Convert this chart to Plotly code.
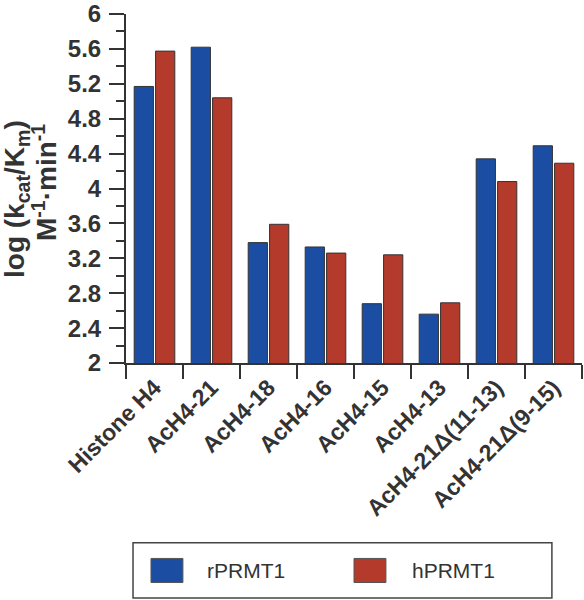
import plotly.graph_objects as go

categories = ["Histone H4", "AcH4-21", "AcH4-18", "AcH4-16", "AcH4-15",
              "AcH4-13", "AcH4-21Δ(11-13)", "AcH4-21Δ(9-15)"]
series_names = ["rPRMT1", "hPRMT1"]
rPRMT1 = [5.17, 5.62, 3.38, 3.33, 2.68, 2.56, 4.34, 4.49]
hPRMT1 = [5.575, 5.04, 3.59, 3.26, 3.24, 2.69, 4.08, 4.29]
colors = ["#1b4ea3", "#b43a2b"]
y_title_lines = ["log (k<sub>cat</sub>/K<sub>m</sub>)", "M<sup>-1</sup>·min<sup>-1</sup>"]

fig = go.Figure()
for name, vals, col in zip(series_names, [rPRMT1, hPRMT1], colors):
    fig.add_trace(go.Bar(x=categories, y=vals, name=name, marker_color=col,
                         marker_line=dict(color="#333333", width=1),
                         showlegend=False))

font_family = "Liberation Sans, Arial, sans-serif"
axis_col = "#333333"

fig.update_layout(
    width=584, height=600,
    margin=dict(l=126, r=2, t=14, b=237),
    paper_bgcolor="white", plot_bgcolor="white",
    barmode="group", bargap=0.25, bargroupgap=0.1,
    font=dict(family=font_family, color="#333333"),
)
fig.update_yaxes(
    range=[2, 6.0005], tick0=2, dtick=0.4, ticks="outside", ticklen=15, tickwidth=2,
    tickcolor=axis_col, showline=True, linewidth=2, linecolor=axis_col,
    showgrid=False, zeroline=False, automargin=False,
    ticklabeloverflow="allow", ticklabelstandoff=3,
    tickfont=dict(size=24, weight="bold", color="#333333"),
    minor=dict(dtick=0.2, tick0=2, ticks="outside", ticklen=8, tickwidth=2,
               tickcolor=axis_col, showgrid=False),
)
fig.update_xaxes(
    type="category", tickson="boundaries", ticks="outside", ticklen=14,
    tickwidth=2, tickcolor=axis_col, showline=True, linewidth=2,
    linecolor=axis_col, showgrid=False, tickangle=-45, automargin=False,
    tickfont=dict(size=23, weight="bold", color="#333333"),
)

for line, xp, yp in zip(y_title_lines, [-0.239, -0.178], [0.47, 0.518]):
    fig.add_annotation(
        text=line, xref="paper", yref="paper", x=xp, y=yp, textangle=-90,
        showarrow=False, xanchor="center", yanchor="middle",
        font=dict(size=28, weight="bold", color="#333333"),
    )

# custom legend box
fig.add_shape(type="rect", xref="paper", yref="paper", x0=0.0154, x1=0.934,
              y0=-0.673, y1=-0.515, line=dict(color="#444444", width=1.5),
              fillcolor="white")
sw_x = [0.0548, 0.5]
txt_x = [0.173, 0.623]
for name, col, sx, tx in zip(series_names, colors, sw_x, txt_x):
    fig.add_shape(type="rect", xref="paper", yref="paper", x0=sx, x1=sx + 0.07,
                  y0=-0.629, y1=-0.56, line=dict(color="#555555", width=1),
                  fillcolor=col)
    fig.add_annotation(text=name, xref="paper", yref="paper", x=tx, y=-0.595,
                       xanchor="left", yanchor="middle", showarrow=False,
                       font=dict(size=21, color="#333333"))

fig.write_html("out.html", config={"displayModeBar": False},
               post_script="document.body.style.margin='0';")
